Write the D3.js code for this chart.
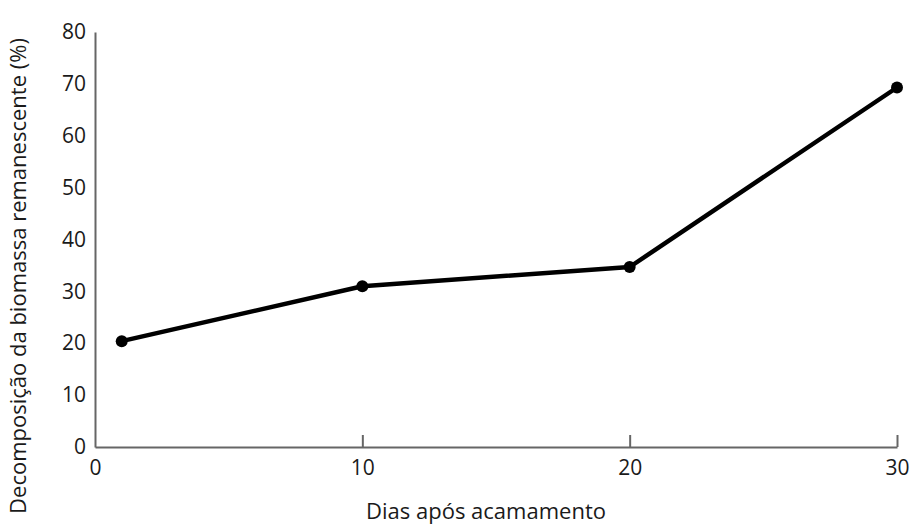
<!DOCTYPE html>
<html><head><meta charset="utf-8">
<script src="https://cdn.jsdelivr.net/npm/d3@7"></script>
<style>body{margin:0;background:#fff}svg{display:block}text{font-family:"Open Sans",sans-serif;fill:#1a1a1a}</style>
</head><body><svg id="c" width="913" height="524"></svg>
<script>
const days = [1, 10, 20, 30];
const decomposition = [20.4, 31.0, 34.7, 69.3];
const xTicks = [0, 10, 20, 30];
const yTicks = [0, 10, 20, 30, 40, 50, 60, 70, 80];
const xTitle = "Dias após acamamento";
const yTitle = "Decomposição da biomassa remanescente (%)";

const svg = d3.select("#c");
const x = d3.scaleLinear().domain([0, 30]).range([95, 897]);
const y = d3.scaleLinear().domain([0, 80]).range([447, 32]);

// axes
const gx = svg.append("g").attr("transform", `translate(0,${y(0)})`)
  .call(d3.axisBottom(x).tickValues(xTicks).tickSizeInner(-12).tickSizeOuter(0).tickPadding(10));
gx.select(".domain").attr("stroke", "#666").attr("stroke-width", 2);
gx.selectAll(".tick line").attr("stroke", "#666").attr("stroke-width", 2).attr("y1", 0).attr("y2", -12);
gx.selectAll(".tick text").attr("font-size", 21).attr("dy", "0.9em").attr("y", 9).attr("fill", "#1a1a1a");
gx.selectAll(".tick").filter(d => d === 0).select("line").remove();

const gy = svg.append("g").attr("transform", `translate(${x(0)},0)`)
  .call(d3.axisLeft(y).tickValues(yTicks).tickSize(0).tickPadding(9));
gy.select(".domain").attr("stroke", "#666").attr("stroke-width", 2);
gy.selectAll(".tick text").attr("font-size", 21).attr("fill", "#1a1a1a");

// line
const pts = days.map((d, i) => [d, decomposition[i]]);
svg.append("path").datum(pts)
  .attr("fill", "none").attr("stroke", "#000").attr("stroke-width", 4.5).attr("stroke-linejoin", "round")
  .attr("d", d3.line().x(d => x(d[0])).y(d => y(d[1])));
svg.selectAll("circle.pt").data(pts).enter().append("circle")
  .attr("cx", d => x(d[0])).attr("cy", d => y(d[1])).attr("r", 6).attr("fill", "#000");

// titles
svg.append("text").attr("x", 486).attr("y", 519).attr("text-anchor", "middle")
  .attr("font-size", 22).text(xTitle);
svg.append("text").attr("transform", "translate(26,276) rotate(-90)").attr("text-anchor", "middle")
  .attr("font-size", 22).text(yTitle);
</script></body></html>
